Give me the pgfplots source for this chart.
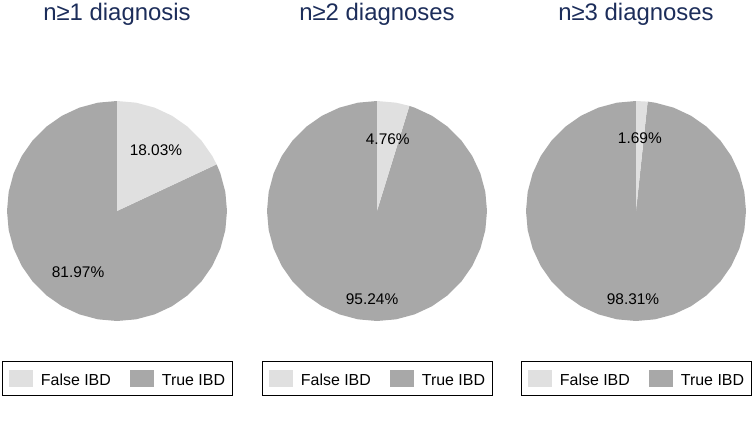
\documentclass[border=0pt]{standalone}
\usepackage{fontspec}
\setmainfont{Liberation Sans}
\usepackage{pgfplots}
\pgfplotsset{compat=1.18}
\definecolor{falseg}{RGB}{224,224,224}
\definecolor{trueg}{RGB}{168,168,168}
\definecolor{titlecol}{RGB}{28,45,90}
\newcommand\titlefont{\fontsize{24}{28}\selectfont}
\newcommand\pctfont{\fontsize{15.5}{18}\selectfont}
\newcommand\legfont{\fontsize{16}{19}\selectfont}
\pgfplotsset{
  pie/.style={
    scale only axis, width=220bp, height=220bp,
    xmin=-1, xmax=1, ymin=-1, ymax=1,
    hide axis, anchor=center, clip=false,
    title style={at={(0.5,1)}, anchor=base, yshift=75bp, font=\titlefont, text=titlecol, inner sep=0pt},
    legend columns=2,
    legend image code/.code={\fill[##1] (0bp,-6.25bp) rectangle (24bp,10.75bp);},
    legend style={at={(0.5,-0.261)}, anchor=center, draw=black, line width=0.8pt,
      font=\legfont, inner xsep=7bp, inner ysep=8bp,
      nodes={inner sep=0pt},
      column sep=8bp,
      /tikz/every even column/.append style={column sep=19bp}},
    legend cell align=left,
  },
  sl/.style={draw=none, forget plot, data cs=polar},
}
\begin{document}
\begin{tikzpicture}
\useasboundingbox (0,0) rectangle (753bp,-423bp);
% ---------- pie 1
\begin{axis}[pie, at={(117bp,-211bp)}, title={n≥1 diagnosis}]
\addplot[sl, fill=trueg] coordinates {(0,0) (25.09,1) (20,1) (10,1) (0,1) (-10,1) (-20,1) (-30,1) (-40,1) (-50,1) (-60,1) (-70,1) (-80,1) (-90,1) (-100,1) (-110,1) (-120,1) (-130,1) (-140,1) (-150,1) (-160,1) (-170,1) (-180,1) (-190,1) (-200,1) (-210,1) (-220,1) (-230,1) (-240,1) (-250,1) (-260,1) (-270,1)};
\addplot[sl, fill=falseg] coordinates {(0,0) (90,1) (80,1) (70,1) (60,1) (50,1) (40,1) (30,1) (25.09,1)};
\addlegendimage{fill=falseg, draw=none}
\addlegendentry{False IBD}
\addlegendimage{fill=trueg, draw=none}
\addlegendentry{True IBD}
\node[font=\pctfont] at (axis cs:0.354,0.557) {18.03\%};
\node[font=\pctfont] at (axis cs:-0.354,-0.557) {81.97\%};
\end{axis}
% ---------- pie 2
\begin{axis}[pie, at={(377bp,-211bp)}, title={n≥2 diagnoses}]
\addplot[sl, fill=trueg] coordinates {(0,0) (72.86,1) (70,1) (60,1) (50,1) (40,1) (30,1) (20,1) (10,1) (0,1) (-10,1) (-20,1) (-30,1) (-40,1) (-50,1) (-60,1) (-70,1) (-80,1) (-90,1) (-100,1) (-110,1) (-120,1) (-130,1) (-140,1) (-150,1) (-160,1) (-170,1) (-180,1) (-190,1) (-200,1) (-210,1) (-220,1) (-230,1) (-240,1) (-250,1) (-260,1) (-270,1)};
\addplot[sl, fill=falseg] coordinates {(0,0) (90,1) (80,1) (72.86,1)};
\addlegendimage{fill=falseg, draw=none}
\addlegendentry{False IBD}
\addlegendimage{fill=trueg, draw=none}
\addlegendentry{True IBD}
\node[font=\pctfont] at (axis cs:0.098,0.653) {4.76\%};
\node[font=\pctfont] at (axis cs:-0.045,-0.80) {95.24\%};
\end{axis}
% ---------- pie 3
\begin{axis}[pie, at={(636bp,-211bp)}, title={n≥3 diagnoses}]
\addplot[sl, fill=trueg] coordinates {(0,0) (83.92,1) (80,1) (70,1) (60,1) (50,1) (40,1) (30,1) (20,1) (10,1) (0,1) (-10,1) (-20,1) (-30,1) (-40,1) (-50,1) (-60,1) (-70,1) (-80,1) (-90,1) (-100,1) (-110,1) (-120,1) (-130,1) (-140,1) (-150,1) (-160,1) (-170,1) (-180,1) (-190,1) (-200,1) (-210,1) (-220,1) (-230,1) (-240,1) (-250,1) (-260,1) (-270,1)};
\addplot[sl, fill=falseg] coordinates {(0,0) (90,1) (83.92,1)};
\addlegendimage{fill=falseg, draw=none}
\addlegendentry{False IBD}
\addlegendimage{fill=trueg, draw=none}
\addlegendentry{True IBD}
\node[font=\pctfont] at (axis cs:0.035,0.659) {1.69\%};
\node[font=\pctfont] at (axis cs:-0.027,-0.80) {98.31\%};
\end{axis}
\end{tikzpicture}
\end{document}
